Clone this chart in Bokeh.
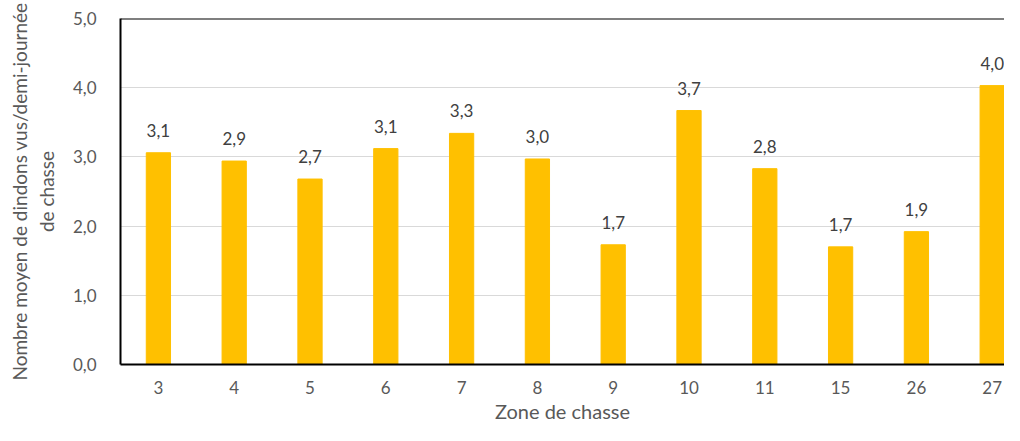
from bokeh.plotting import figure
from bokeh.models import ColumnDataSource, Range1d, FixedTicker, Span, LinearAxis
from bokeh.core.properties import value
from bokeh.embed import file_html
from bokeh.resources import INLINE

zones = ["3", "4", "5", "6", "7", "8", "9", "10", "11", "15", "26", "27"]
moyennes = [3.06, 2.94, 2.68, 3.12, 3.34, 2.97, 1.73, 3.67, 2.83, 1.70, 1.92, 4.03]
y_ticks = [0, 1, 2, 3, 4, 5]
y_tick_labels = ["0,0", "1,0", "2,0", "3,0", "4,0", "5,0"]
y_title_1 = "Nombre moyen de dindons vus/demi-journée"
y_title_2 = "de chasse"
x_title = "Zone de chasse"

FONT = "Lato"
GREY = "#595959"

xs = [i + 0.5 for i in range(len(zones))]
labels = [f"{v:.1f}".replace(".", ",") for v in moyennes]
src = ColumnDataSource(dict(x=xs, top=moyennes, lab=labels))

W, H = 1004, 425
left, top_b, bottom_b = 120, 18, 58
px_per_cat = 75.8
x_end = (W - left) / px_per_cat

p = figure(width=W, height=H, output_backend="svg", toolbar_location=None,
           x_range=Range1d(0, x_end), y_range=Range1d(0, 5),
           min_border_left=left, min_border_top=top_b, min_border_bottom=bottom_b,
           min_border_right=0)
p.outline_line_color = None

p.vbar(x="x", top="top", width=0.32, source=src, color="#FFC000")
p.text(x="x", y="top", text="lab", source=src, text_align="center",
       text_baseline="bottom", y_offset=-16, text_font=value(FONT),
       text_font_size="17px", text_color="#404040")

p.xaxis.ticker = FixedTicker(ticks=xs)
p.xaxis.major_label_overrides = {x: z for x, z in zip(xs, zones)}
p.yaxis.ticker = FixedTicker(ticks=y_ticks)
p.yaxis.major_label_overrides = {t: l for t, l in zip(y_ticks, y_tick_labels)}

outer = LinearAxis(ticker=FixedTicker(ticks=[]), axis_label=y_title_1)
p.add_layout(outer, "left")

for ax in (p.xaxis[0], p.yaxis[0], outer):
    ax.major_tick_line_color = None
    ax.minor_tick_line_color = None
    ax.axis_line_color = "black"
    ax.axis_line_width = 2
    ax.major_label_text_font = FONT
    ax.major_label_text_font_size = "17px"
    ax.major_label_text_color = GREY
    ax.axis_label_text_font = FONT
    ax.axis_label_text_font_size = "19px"
    ax.axis_label_text_font_style = "normal"
    ax.axis_label_text_color = GREY

p.xaxis.axis_label_text_font_size = "20px"
outer.axis_line_color = None
outer.major_label_standoff = 0
outer.axis_label_standoff = 1

p.xaxis.major_label_standoff = 10
p.yaxis[0].major_label_standoff = 18
p.xaxis.axis_label = x_title
p.xaxis.axis_label_standoff = 2
p.yaxis[0].axis_label = y_title_2
p.yaxis[0].axis_label_standoff = 12

p.xgrid.grid_line_color = None
p.ygrid.grid_line_color = "#D9D9D9"
p.ygrid.grid_line_width = 1

p.add_layout(Span(location=5, dimension="width", line_color="black", line_width=2))

open("out.html", "w").write(file_html(p, INLINE))
